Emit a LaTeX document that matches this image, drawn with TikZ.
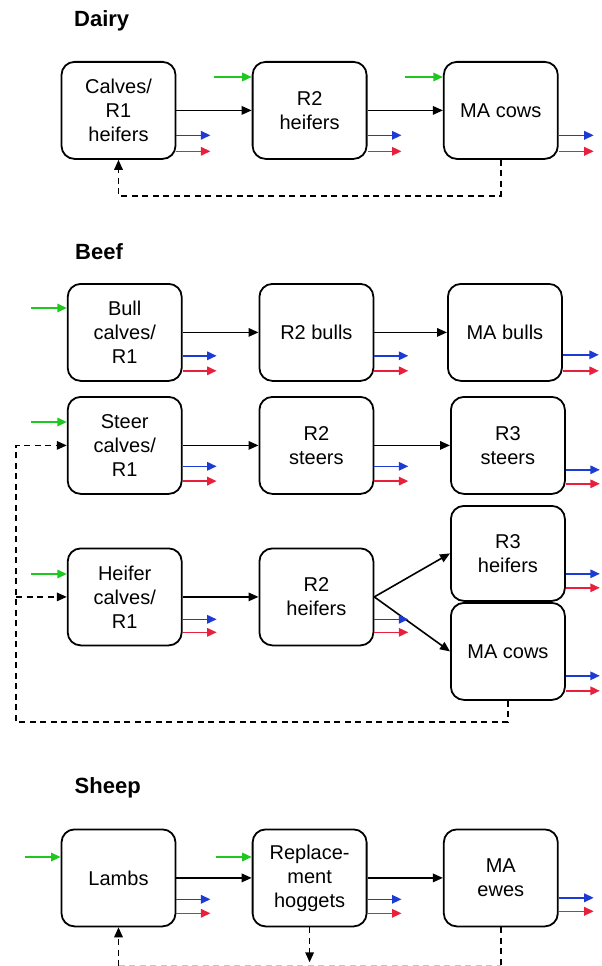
\documentclass[tikz,border=0pt]{standalone}
\usepackage{fontspec}
\setmainfont{Liberation Sans}
\usetikzlibrary{arrows.meta,calc}
\definecolor{ingreen}{RGB}{30,200,30}
\definecolor{outblue}{RGB}{28,58,212}
\definecolor{outred}{RGB}{232,32,60}
\newcommand{\outflows}[4]{%
  \draw[outb] ($(#1.south east)+(0,-#2)$) -- ++(#4,0);
  \draw[outr] ($(#1.south east)+(0,-#3)$) -- ++(#4,0);}
\newcommand{\inflow}[3]{%
  \draw[inf] ($(#1.north west)+(-#3,#2)$) -- ($(#1.north west)+(0,#2)$);}
\begin{document}
\begin{tikzpicture}[x=1pt,y=-1pt,
  stock/.style={draw=black, line width=1.8pt, rounded corners=13pt,
    minimum width=114pt, minimum height=97pt, inner sep=0pt, align=center,
    font=\fontsize{20}{24}\selectfont, anchor=north west},
  title/.style={font=\fontsize{22}{26}\selectfont\bfseries, anchor=base west, inner sep=0pt},
  flow/.style={line width=1.6pt, -{Triangle[length=10pt,width=8.5pt]}},
  fb/.style={flow, dash pattern=on 6pt off 4.5pt},
  inf/.style={line width=1.6pt, ingreen, -{Triangle[length=9.5pt,width=8.5pt]}},
  outb/.style={line width=1.6pt, outblue, -{Triangle[length=9.5pt,width=8.5pt]}},
  outr/.style={line width=1.6pt, outred, -{Triangle[length=9.5pt,width=8.5pt]}}]
\useasboundingbox (0,0) rectangle (602,966);

% ---------------- Dairy
\node[title] (tdairy) at (74,27) {Dairy};
\node[stock] (d1) at (60.6,61) {Calves/\\R1\\heifers};
\node[stock] (d2) at (251.7,61) {R2\\heifers};
\node[stock] (d3) at (442.9,61) {MA cows};
\draw[flow] (d1) -- (d2);
\draw[flow] (d2) -- (d3);
\inflow{d2}{16}{38}
\inflow{d3}{16}{38}
\outflows{d1}{24.5}{8.5}{34}
\outflows{d2}{24.5}{8.5}{34}
\outflows{d3}{24.5}{8.5}{35}
\draw[fb] (d3.south) -- ++(0,36) -| (d1.south);

% ---------------- Beef
\node[title] (tbeef) at (75,259.3) {Beef};
\node[stock] (b1) at (66.8,283) {Bull\\calves/\\R1};
\node[stock] (b2) at (258.5,283) {R2 bulls};
\node[stock] (b3) at (447,283) {MA bulls};
\draw[flow] (b1) -- (b2);
\draw[flow] (b2) -- (b3);
\inflow{b1}{25}{36}
\outflows{b1}{26}{11}{34}
\outflows{b2}{26}{11}{34}
\outflows{b3}{27}{11}{36}

\node[stock] (s1) at (66.8,396) {Steer\\calves/\\R1};
\node[stock] (s2) at (258.5,396) {R2\\steers};
\node[stock] (s3) at (450,396) {R3\\steers};
\draw[flow] (s1) -- (s2);
\draw[flow] (s2) -- (s3);
\inflow{s1}{26}{36}
\outflows{s1}{28.5}{13.7}{34}
\outflows{s2}{28.5}{13.7}{34}
\outflows{s3}{25}{11}{34}

\node[stock] (h1) at (66.8,547.5) {Heifer\\calves/\\R1};
\node[stock] (h2) at (258.5,547.5) {R2\\heifers};
\node[stock, minimum height=95pt] (h3) at (450,505) {R3\\heifers};
\node[stock] (h4) at (450,602) {MA cows};
\draw[flow] (h1) -- (h2);
\draw[flow] (h2.east) -- (h3.west);
\draw[flow] (h2.east) -- (h4.west);
\inflow{h1}{26.5}{36}
\outflows{h1}{27}{14}{34}
\outflows{h2}{27}{14}{34}
\outflows{h3}{28}{14}{34}
\outflows{h4}{25}{10}{34}
\coordinate (bl) at (16,722);
\draw[fb] (h4.south) |- (bl) |- (s1.west);
\draw[fb] (bl |- h1.west) -- (h1.west);

% ---------------- Sheep
\node[title] (tsheep) at (74.5,793) {Sheep};
\node[stock] (sh1) at (60.6,828.5) {Lambs};
\node[stock] (sh2) at (251.7,828.5) {Replace-\\ment\\hoggets};
\node[stock] (sh3) at (442.9,828.5) {MA\\ewes};
\draw[flow] (sh1) -- (sh2);
\draw[flow] (sh2) -- (sh3);
\inflow{sh1}{28.5}{36}
\inflow{sh2}{28.5}{36}
\outflows{sh1}{28}{14}{34}
\outflows{sh2}{28}{14}{34}
\outflows{sh3}{29.5}{16}{35}
\coordinate (sb1) at (sh1.south |- 0,966);
\coordinate (sb3) at (sh3.south |- 0,966);
\draw[fb] (sb1) -- (sh1.south);
\draw[fb] (sh2.south) -- ++(0,35);
\draw[line width=1.6pt, dash pattern=on 6pt off 4.5pt] (sh3.south) -- (sb3);
\draw[gray!45, line width=1pt, dash pattern=on 6pt off 4.5pt] ($(sb1)+(0,-1)$) -- ($(sb3)+(0,-1)$);
\end{tikzpicture}
\end{document}
